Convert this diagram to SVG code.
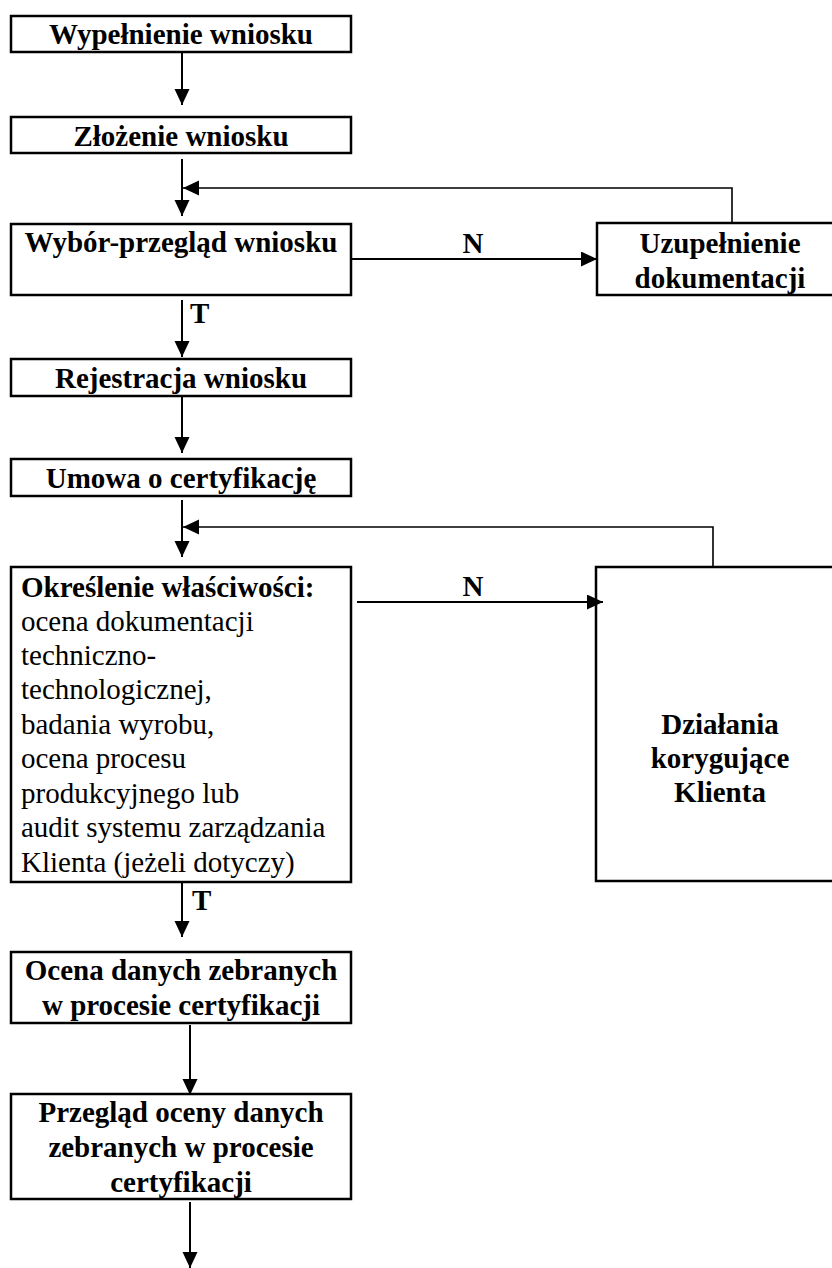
<svg xmlns="http://www.w3.org/2000/svg" width="832" height="1268" viewBox="0 0 832 1268">
<style>
  .box { fill: #fff; stroke: #000; stroke-width: 2.5; }
  .t { font-family: "Liberation Serif", "Times New Roman", serif; font-size: 29px; fill: #000; }
  .b { font-weight: bold; }
  .c { text-anchor: middle; }
  .ln { fill: none; stroke: #000; stroke-width: 2; }
  .fb { fill: none; stroke: #000; stroke-width: 1.6; }
</style>
<defs>
  <marker id="ah" markerUnits="userSpaceOnUse" markerWidth="17" markerHeight="16" refX="16" refY="7.5" orient="auto" viewBox="0 0 17 16">
    <path d="M0,0 L16,7.5 L0,15 z" fill="#000"/>
  </marker>
</defs>
<rect width="832" height="1268" fill="#fff"/>

<g id="n1">
  <rect class="box" x="11" y="16" width="340" height="36"/>
  <text class="t b c" x="181" y="44">Wypełnienie wniosku</text>
</g>
<g id="n2">
  <rect class="box" x="11" y="117" width="340" height="36"/>
  <text class="t b c" x="181" y="146">Złożenie wniosku</text>
</g>
<g id="n3">
  <rect class="box" x="11" y="224" width="340" height="71"/>
  <text class="t b c" x="181" y="252">Wybór-przegląd wniosku</text>
</g>
<g id="n4">
  <rect class="box" x="597" y="223" width="250" height="72"/>
  <text class="t b c" x="720" y="253">Uzupełnienie</text>
  <text class="t b c" x="720" y="288">dokumentacji</text>
</g>
<g id="n5">
  <rect class="box" x="11" y="359" width="340" height="37"/>
  <text class="t b c" x="181" y="388">Rejestracja wniosku</text>
</g>
<g id="n6">
  <rect class="box" x="11" y="459" width="340" height="37"/>
  <text class="t b c" x="181" y="488">Umowa o certyfikację</text>
</g>
<g id="n7">
  <rect class="box" x="11" y="567" width="340" height="315"/>
  <text class="t b" x="21" y="597">Określenie właściwości:</text>
  <text class="t" x="21" y="631">ocena dokumentacji</text>
  <text class="t" x="21" y="665">techniczno-</text>
  <text class="t" x="21" y="699">technologicznej,</text>
  <text class="t" x="21" y="734">badania wyrobu,</text>
  <text class="t" x="21" y="768">ocena procesu</text>
  <text class="t" x="21" y="803">produkcyjnego lub</text>
  <text class="t" x="21" y="837">audit systemu zarządzania</text>
  <text class="t" x="21" y="872">Klienta (jeżeli dotyczy)</text>
</g>
<g id="n8">
  <rect class="box" x="596" y="567" width="250" height="314"/>
  <text class="t b c" x="720" y="734">Działania</text>
  <text class="t b c" x="720" y="768">korygujące</text>
  <text class="t b c" x="720" y="802">Klienta</text>
</g>
<g id="n9">
  <rect class="box" x="11" y="952" width="340" height="71"/>
  <text class="t b c" x="181" y="980">Ocena danych zebranych</text>
  <text class="t b c" x="181" y="1015">w procesie certyfikacji</text>
</g>
<g id="n10">
  <rect class="box" x="11" y="1094" width="340" height="105"/>
  <text class="t b c" x="181" y="1122">Przegląd oceny danych</text>
  <text class="t b c" x="181" y="1157">zebranych w procesie</text>
  <text class="t b c" x="181" y="1192">certyfikacji</text>
</g>

<g id="connectors">
  <line class="ln" x1="182" y1="52" x2="182" y2="105" marker-end="url(#ah)"/>
  <line class="ln" x1="182" y1="159" x2="182" y2="216" marker-end="url(#ah)"/>
  <polyline class="fb" points="732,223 732,188 183,188" marker-end="url(#ah)"/>
  <line class="ln" x1="351" y1="259" x2="597" y2="259" marker-end="url(#ah)"/>
  <text class="t b c" x="473" y="253">N</text>
  <line class="ln" x1="182" y1="300" x2="182" y2="357" marker-end="url(#ah)"/>
  <text class="t b" x="190" y="323">T</text>
  <line class="ln" x1="182" y1="396" x2="182" y2="453" marker-end="url(#ah)"/>
  <line class="ln" x1="182" y1="500" x2="182" y2="557" marker-end="url(#ah)"/>
  <polyline class="fb" points="713,567 713,527 183,527" marker-end="url(#ah)"/>
  <line class="ln" x1="357" y1="602" x2="603" y2="602" marker-end="url(#ah)"/>
  <text class="t b c" x="473" y="596">N</text>
  <line class="ln" x1="182" y1="882" x2="182" y2="937" marker-end="url(#ah)"/>
  <text class="t b" x="192" y="910">T</text>
  <line class="ln" x1="190" y1="1025" x2="190" y2="1095" marker-end="url(#ah)"/>
  <line class="ln" x1="190" y1="1202" x2="190" y2="1268" marker-end="url(#ah)"/>
</g>
</svg>
